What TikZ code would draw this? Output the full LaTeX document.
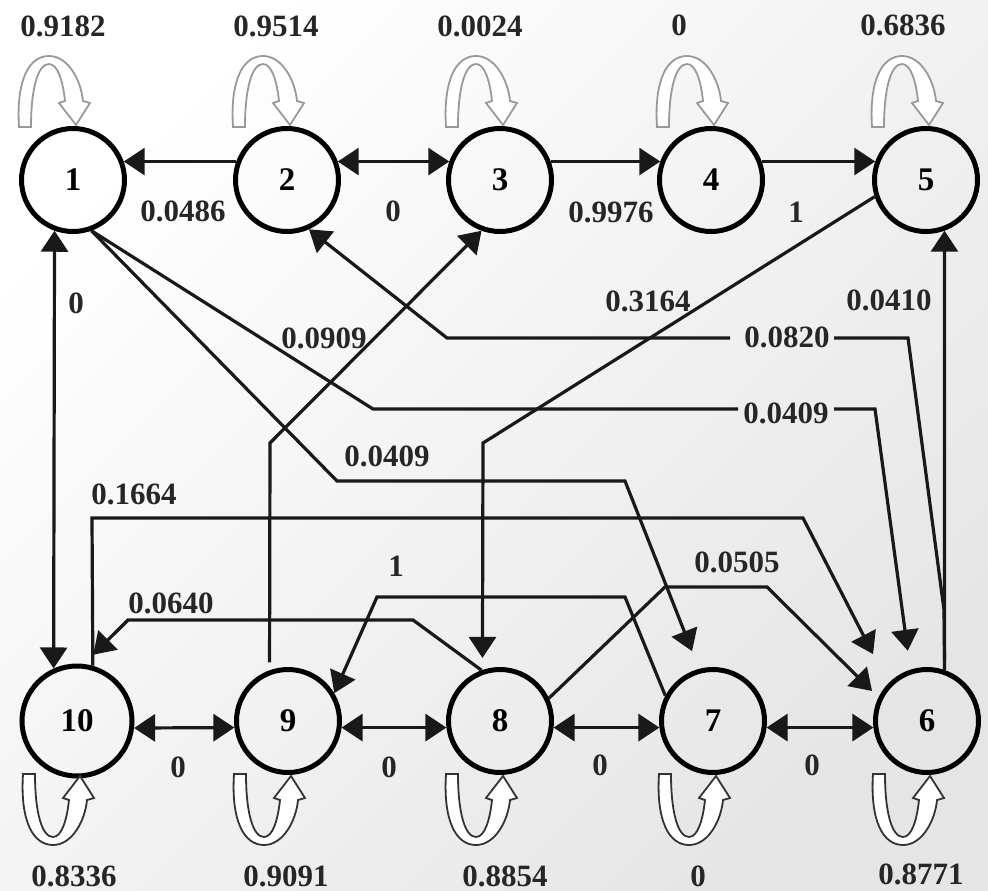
\documentclass[tikz,border=0pt]{standalone}
\usepackage{fontspec}
\setmainfont{Liberation Serif}
\usetikzlibrary{arrows.meta}
\newcommand{\edgelabfont}{\fontsize{31}{34}\selectfont\bfseries}
\newcommand{\nodelabfont}{\fontsize{33}{36}\selectfont\bfseries}
\tikzset{
  stnode/.style={circle, draw=black, line width=5pt, minimum size=103pt, inner sep=0pt, font=\nodelabfont},
  conn/.style={line width=3.2pt, draw=black!90},
  oneway/.style={-{Triangle[length=21pt,width=27pt]}},
  twoway/.style={{Triangle[length=21pt,width=27pt]}-{Triangle[length=21pt,width=27pt]}},
  lab/.style={font=\edgelabfont, text=black!85, inner sep=2pt},
  selfloop/.pic={
    \draw[line width=1.8pt, fill=white, pic actions]
      (-54,-53) .. controls (-57,-100) and (-44,-124) .. (-24,-124)
      .. controls (-5,-124) and (8,-100) .. (10,-79)
      -- (17,-77) -- (3,-55) -- (-14,-77) -- (-8,-79)
      .. controls (-10,-98) and (-15,-116) .. (-24,-116)
      .. controls (-35,-116) and (-42,-92) .. (-42,-53) -- cycle;
  }
}
\begin{document}
\begin{tikzpicture}[x=1pt,y=-1pt]
\useasboundingbox (0,0) rectangle (988,891);
\shade[top color=white, bottom color=black!10, shading angle=45] (0,0) rectangle (988,891);

% nodes
\node[stnode] (n1) at (73,180) {1};
\node[stnode] (n2) at (287,180) {2};
\node[stnode] (n3) at (500,180) {3};
\node[stnode] (n4) at (711,180) {4};
\node[stnode] (n5) at (926,180) {5};
\node[stnode, minimum size=110pt] (n10) at (77,721) {10};
\node[stnode] (n9) at (288,721) {9};
\node[stnode] (n8) at (500,721) {8};
\node[stnode] (n7) at (713,721) {7};
\node[stnode] (n6) at (927,721) {6};

% self loops
\pic[draw=black!40] at (n1.center) {selfloop};
\pic[draw=black!40] at (n2.center) {selfloop};
\pic[draw=black!40] at (n3.center) {selfloop};
\pic[draw=black!40] at (n4.center) {selfloop};
\pic[draw=black!40] at (n5.center) {selfloop};
\pic[draw=black!80, yscale=-1] at (n10.center) {selfloop};
\pic[draw=black!80, yscale=-1] at (n9.center) {selfloop};
\pic[draw=black!80, yscale=-1] at (n8.center) {selfloop};
\pic[draw=black!80, yscale=-1] at (n7.center) {selfloop};
\pic[draw=black!80, yscale=-1] at (n6.center) {selfloop};

% self loop labels
\node[lab] (s1) at (63,26) {0.9182};
\node[lab] (s2) at (276,26) {0.9514};
\node[lab] (s3) at (480,26) {0.0024};
\node[lab] (s4) at (679,25) {0};
\node[lab] (s5) at (903,25) {0.6836};
\node[lab] (s10) at (74,876) {0.8336};
\node[lab] (s9) at (286,876) {0.9091};
\node[lab] (s8) at (505,876) {0.8854};
\node[lab] (s7) at (698,876) {0};
\node[lab] (s6) at (921,874) {0.8771};

% horizontal connectors
\draw[conn,oneway] (n2.160) -- (n1.20);
\draw[conn,twoway] (n2.20) -- (n3.160);
\draw[conn,oneway] (n3.20) -- (n4.160);
\draw[conn,oneway] (n4.20) -- (n5.160);
\draw[conn,twoway] (n10.-7) -- (n9.187);
\draw[conn,twoway] (n9.-7) -- (n8.187);
\draw[conn,twoway] (n8.-7) -- (n7.187);
\draw[conn,twoway] (n7.-7) -- (n6.187);
\node[lab] (l21) at (183,211) {0.0486};
\node[lab] (l23) at (393,211) {0};
\node[lab] (l34) at (611,212) {0.9976};
\node[lab] (l45) at (796,212) {1};
\node[lab] (l109) at (178,767) {0};
\node[lab] (l98) at (389,767) {0};
\node[lab] (l87) at (600,765) {0};
\node[lab] (l76) at (812,765) {0};

% vertical connectors
\draw[conn,twoway] (n1.-110) -- (n10.114);
\node[lab] (l110) at (76,303) {0};
\draw[conn,oneway,shorten <=10pt] (n6.71) -- (n5.-70);
\node[lab] (l65) at (889,300) {0.0410};

% long connectors
\node[lab] (l16) at (786,413) {0.0409};
\draw[conn,oneway,shorten >=19pt] (n1.-70) -- (373,409) -- (738,409) (834,409) -- (875,409) -- (n6.108);
\draw[conn,oneway,shorten >=19pt] (n1.-70) -- (337,481) -- (625,481) -- (n7.105);
\node[lab] (l17) at (387,456) {0.0409};

\draw[conn,oneway,shorten >=33pt] (n10.74) -- (92,518) -- (803,518) -- (n6.136);
\node[lab] (l106) at (134,494) {0.1664};

\node[lab] (l62) at (787,337) {0.0820};
\draw[conn,oneway,shorten <=10pt] (n6.71) -- (944,610) -- (908,338) -- (834,338) (740,338) -- (447,338) -- (n2.-66);

\draw[conn,oneway,shorten >=12pt] (n5.-162) -- (483,443) -- (n8.109);
\node[lab] (l58) at (648,301) {0.3164};

\draw[conn,oneway,shorten <=8pt] (n9.110) -- (270,443) -- (n3.-110);
\node[lab] (l93) at (324,338) {0.0909};

\draw[conn,oneway,shorten >=13pt] (n8.110) -- (413,620) -- (128,620) -- (n10.83);
\node[lab] (l810) at (171,603) {0.0640};

\draw[conn,oneway,shorten >=9pt] (n8.25) -- (665,587) -- (767,587) -- (n6.154);
\node[lab] (l86) at (737,562) {0.0505};

\draw[conn,oneway] (n7.152) -- (625,597) -- (377,597) -- (n9.31);
\node[lab] (l79) at (396,566) {1};
\end{tikzpicture}
\end{document}
